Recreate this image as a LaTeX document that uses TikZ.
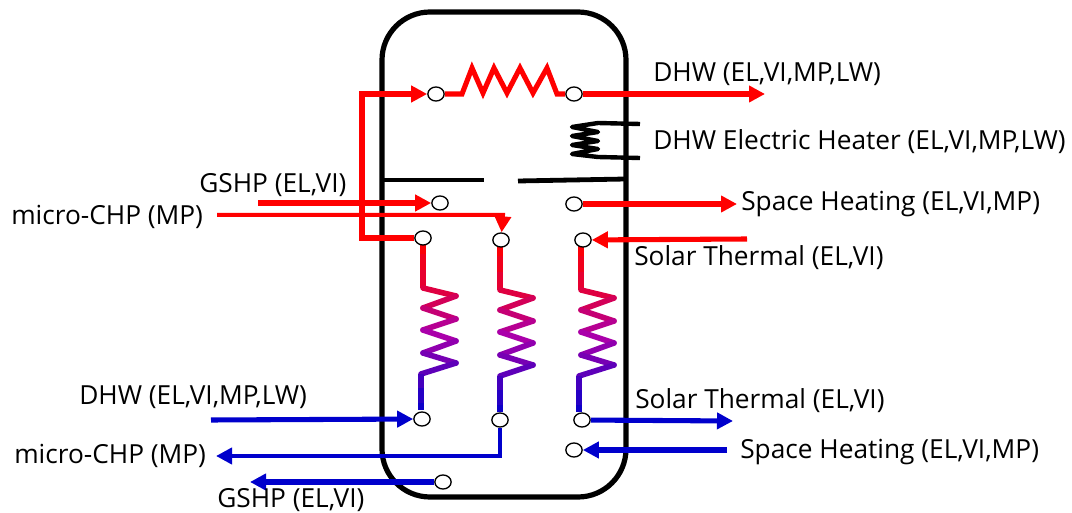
\documentclass[tikz,border=0pt]{standalone}
\usepackage{fontspec}
\setmainfont{Open Sans}
\usetikzlibrary{arrows.meta,calc,shapes.geometric}
\definecolor{hotred}{RGB}{255,0,0}
\definecolor{coldblue}{RGB}{0,0,204}
\definecolor{coilmid}{RGB}{170,0,170}
\tikzset{
    port/.style={ellipse, draw, line width=1pt, fill=white, inner sep=0pt, minimum width=4.3mm, minimum height=3.7mm},
    lbl/.style={anchor=west, inner sep=0pt, font=\fontsize{19.7}{22}\selectfont},
    hot/.style={draw=hotred, line width=3.8pt, -{Triangle[length=12pt,width=12pt]}},
    hotthin/.style={hot, line width=3pt},
    cold/.style={draw=coldblue, line width=3.8pt, -{Triangle[length=12pt,width=12pt]}},
    coldthin/.style={cold, line width=3.2pt},
    coilwire/.style={line width=4.2pt}
}
% top port, x of zigzag start, x of lower stem
\newcommand{\coilpipe}[3]{
    \foreach \ya/\yb/\c in {0/16/hotred!96!coilmid,16/32/hotred!84!coilmid,32/50/hotred!72!coilmid}
        \draw[coilwire, draw=\c] ($(#1)+(#2,\ya)$) -- ($(#1)+(#2,\yb)$);
    \foreach \xa/\ya/\xb/\yb/\c in {0/50/33/58/hotred!62!coilmid,33/58/0/70/hotred!48!coilmid,0/70/33/81/hotred!32!coilmid,33/81/0/92/hotred!14!coilmid,0/92/33/103/coilmid,33/103/0/115/coilmid!85!coldblue,0/115/33/125/coilmid!70!coldblue,33/125/#3/136/coilmid!55!coldblue}
        \draw[coilwire, draw=\c, line cap=round] ($(#1)+(#2,0)+(\xa,\ya)$) -- ($(#1)+(#2,0)+(\xb,\yb)$);
    \foreach \ya/\yb/\c in {136/150/coilmid!40!coldblue,150/165/coilmid!22!coldblue,165/172/coilmid!8!coldblue}
        \draw[coilwire, draw=\c] ($(#1)+(#2,0)+(#3,\ya)$) -- ($(#1)+(#2,0)+(#3,\yb)$);
}
\begin{document}
\begin{tikzpicture}[x=0.75pt, y=-0.75pt]
    \useasboundingbox (0,0) rectangle (1072,513);
    \draw[line width=3.9pt, rounded corners=36pt] (382,12) rectangle (626,497);

    % divider and heater
    \draw[line width=3.6pt] (384,180) -- (484,180);
    \draw[line width=3.6pt] (518,181) -- (626,179);
    \draw[line width=3.3pt, line join=round] (640,124) -- (598,123) -- (572,127) -- (598,132) -- (572,136) -- (598,141) -- (572,145) -- (598,149) -- (572,154) -- (598,157) -- (640,158);

    % coils
    \coordinate (dhwtop) at (423,238);
    \coordinate (chptop) at (501,240);
    \coordinate (soltop) at (583,240);
    \coilpipe{dhwtop}{0}{-2}
    \coilpipe{chptop}{-1}{0}
    \coilpipe{soltop}{-2}{-2}

    % ports
    \node[port] (topin) at (436,94) {};
    \node[port] (topout) at (574,94) {};
    \node[port] (gshpin) at (440,203) {};
    \node[port] (spaceout) at (574,204) {};
    \node[port] (dhwport) at (dhwtop) {};
    \node[port] (chpport) at (chptop) {};
    \node[port] (solport) at (soltop) {};
    \node[port] (dhwbot) at (422,419) {};
    \node[port] (chpbot) at (500,420) {};
    \node[port] (solbot) at (582,420) {};
    \node[port] (spacein) at (574,450) {};
    \node[port] (gshpout) at (443,482) {};

    % free ends
    \coordinate (dhwend) at (765,94);
    \coordinate (gshpstart) at (258,203);
    \coordinate (chpstart) at (217,215);
    \coordinate (spaceend) at (737,204);
    \coordinate (solstart) at (747,239);
    \coordinate (dhwstart) at (211,420);
    \coordinate (chpend) at (216,456);
    \coordinate (gshpend) at (250,482);
    \coordinate (solend) at (733,421);
    \coordinate (spacestart) at (727,450);

    % hot side
    \draw[hot] (dhwport) -- (362,238) -- (362,94) -- (topin);
    \draw[draw=hotred, line width=3.8pt] (topin) -- (462,94) -- (472,68) -- (483,93) -- (494,68) -- (507,93) -- (520,68) -- (533,93) -- (547,68) -- (557,94) -- (topout);
    \draw[hot] (topout) -- (dhwend);
    \draw[hot] (gshpstart) -- (gshpin);
    \draw[hotthin] (chpstart) -- (503,215) -- (chpport);
    \draw[hot] (spaceout) -- (spaceend);
    \draw[hot] (solstart) -- (solport);

    % cold side
    \draw[cold] (dhwstart) -- (dhwbot);
    \draw[coldthin] (chpbot) -- (500,456) -- (chpend);
    \draw[cold] (gshpout) -- (gshpend);
    \draw[cold] (solbot) -- (solend);
    \draw[cold] (spacestart) -- (spacein);

    % labels
    \node[lbl] (dhwlbl) at (653,74) {DHW (EL,VI,MP,LW)};
    \node[lbl] (heaterlbl) at (653,142) {DHW Electric Heater (EL,VI,MP,LW)};
    \node[lbl] (gshplbl) at (199,185) {GSHP (EL,VI)};
    \node[lbl] (chplbl) at (11,217) {micro-CHP (MP)};
    \node[lbl] (spacelbl) at (741,204) {Space Heating (EL,VI,MP)};
    \node[lbl] (sollbl) at (634,258) {Solar Thermal (EL,VI)};
    \node[lbl] (dhwcold) at (79,397) {DHW (EL,VI,MP,LW)};
    \node[lbl] (solcold) at (635,401) {Solar Thermal (EL,VI)};
    \node[lbl] (chpcold) at (14,456) {micro-CHP (MP)};
    \node[lbl] (spacecold) at (740,452) {Space Heating (EL,VI,MP)};
    \node[lbl] (gshpcold) at (217,500) {GSHP (EL,VI)};
\end{tikzpicture}
\end{document}
